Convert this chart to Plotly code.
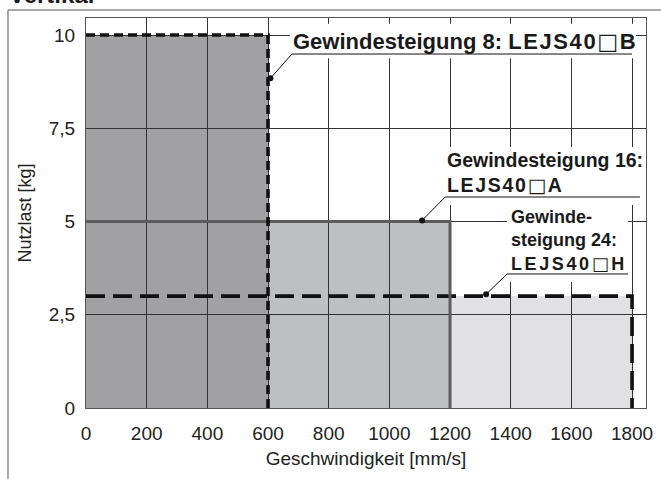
import plotly.graph_objects as go

# ---- data ----
speed = [600, 1200, 1800]          # mm/s (max speed per lead)
load = [10, 5, 3]                  # kg (max payload per lead)
BOX = "<span style=\"font-family:'DejaVu Sans';font-weight:normal\">□</span>"
LS = "<span style=\"letter-spacing:{}px\">{}</span>"
labels = [
    "<b>Gewindesteigung 8: " + LS.format(1.6, "LEJS40" + BOX + "B") + "</b>",
    "<b>Gewindesteigung 16:<br>" + LS.format(1.7, "LEJS40" + BOX + "A") + "</b>",
    "<b>Gewinde-<br>steigung 24:<br>" + LS.format(2.6, "LEJS40" + BOX + "H") + "</b>",
]
x_ticks = [0, 200, 400, 600, 800, 1000, 1200, 1400, 1600, 1800]
y_ticks = [0, 2.5, 5, 7.5, 10]
y_tick_labels = ["0", "2,5", "5", "7,5", "10"]

# ---- styles ----
fill_colors = ["#a1a1a4", "#bebfc1", "#e1e1e3"]
line_colors = ["#111111", "#5c5c5c", "#111111"]
line_dash = ["9px,5px", "solid", "19px,8px"]
line_width = [3.6, 3, 3.6]
FONT = "Liberation Sans, Arial, Helvetica, sans-serif"

# annotation layout (data coordinates): text anchor, white box, underline, dot
ann_text_pos = [(676, 9.83), (1184, 6.31), (1395, 4.50)]
ann_font = [22, 19.5, 18]
ann_box = [(672, 1813, 9.38, 10.30), (1180, 1833, 5.44, 7.00), (1388, 1787, 3.38, 5.44)]
ann_uline = [(679, 1800, 9.49), (1184, 1826, 5.657), (1388, 1787, 3.593)]
ann_dot = [(608, 8.84), (1108, 5.03), (1319, 3.05)]

fig = go.Figure()

shapes = []
# filled regions (below gridlines), widest first
for i in reversed(range(len(speed))):
    shapes.append(dict(type="rect", xref="x", yref="y", x0=0, x1=speed[i], y0=0, y1=load[i],
                       fillcolor=fill_colors[i], line=dict(width=0), layer="below"))

# boundary lines
for i in reversed(range(len(speed))):
    fig.add_trace(go.Scatter(
        x=[0, speed[i], speed[i]], y=[load[i], load[i], 0], mode="lines",
        line=dict(color=line_colors[i], width=line_width[i], dash=line_dash[i]),
        hoverinfo="skip", showlegend=False, cliponaxis=False))

# annotation boxes + leaders
for i in range(len(speed)):
    x0, x1, y0, y1 = ann_box[i]
    shapes.append(dict(type="rect", xref="x", yref="y", x0=x0, x1=x1, y0=y0, y1=y1,
                       fillcolor="white", line=dict(width=0), layer="above"))
for i in range(len(speed)):
    ux0, ux1, uy = ann_uline[i]
    dx, dy = ann_dot[i]
    shapes.append(dict(type="path", xref="x", yref="y",
                       path=f"M {dx},{dy} L {ux0},{uy} L {ux1},{uy}",
                       line=dict(color="#111111", width=1), layer="above"))

fig.add_trace(go.Scatter(
    x=[d[0] for d in ann_dot], y=[d[1] for d in ann_dot], mode="markers",
    marker=dict(color="#111111", size=6), hoverinfo="skip", showlegend=False, cliponaxis=False))

annotations = []
for i in range(len(speed)):
    annotations.append(dict(
        x=ann_text_pos[i][0], y=ann_text_pos[i][1], xref="x", yref="y",
        text=labels[i], showarrow=False, xanchor="left", yanchor="middle", align="left",
        font=dict(family=FONT, size=ann_font[i], color="#1a1a1a")))

# cut-off heading at the top-left
annotations.append(dict(x=-0.141, y=1.0195, xref="paper", yref="paper", text="<b>Vertikal</b>",
                        showarrow=False, xanchor="left", yanchor="bottom",
                        font=dict(family=FONT, size=24, color="#1a1a1a")))

# outer frame (left and top edge)
shapes.append(dict(type="path", xref="paper", yref="paper",
                   path="M -0.1393,-0.25 L -0.1393,1.0205 L 1.1,1.0205",
                   line=dict(color="#555555", width=1)))

fig.update_layout(
    width=661, height=479,
    margin=dict(l=86, r=15, t=18, b=71, autoexpand=False),
    paper_bgcolor="white", plot_bgcolor="white",
    font=dict(family=FONT, size=19, color="#222222"),
    shapes=shapes, annotations=annotations,
    showlegend=False,
)
fig.update_xaxes(
    range=[0, 1846], tickvals=x_ticks, ticktext=[str(v) for v in x_ticks],
    showgrid=True, gridcolor="#333333", gridwidth=1, zeroline=False,
    showline=True, linecolor="#555555", linewidth=1, mirror=True,
    ticks="outside", ticklen=8, tickcolor="rgba(0,0,0,0)",
    tickfont=dict(size=19),
    title=dict(text="Geschwindigkeit [mm/s]", font=dict(size=19), standoff=8),
    automargin=False,
)
fig.update_yaxes(
    range=[0, 10.456], tickvals=y_ticks, ticktext=y_tick_labels,
    showgrid=True, gridcolor="#333333", gridwidth=1, zeroline=False,
    showline=True, linecolor="#555555", linewidth=1, mirror=True,
    ticks="outside", ticklen=6, tickcolor="rgba(0,0,0,0)",
    tickfont=dict(size=19),
    title=dict(text="Nutzlast [kg]", font=dict(size=18), standoff=12),
    automargin=False,
)

fig.write_html("out.html", config={"displayModeBar": False},
               post_script="document.body.style.margin='0px';")
